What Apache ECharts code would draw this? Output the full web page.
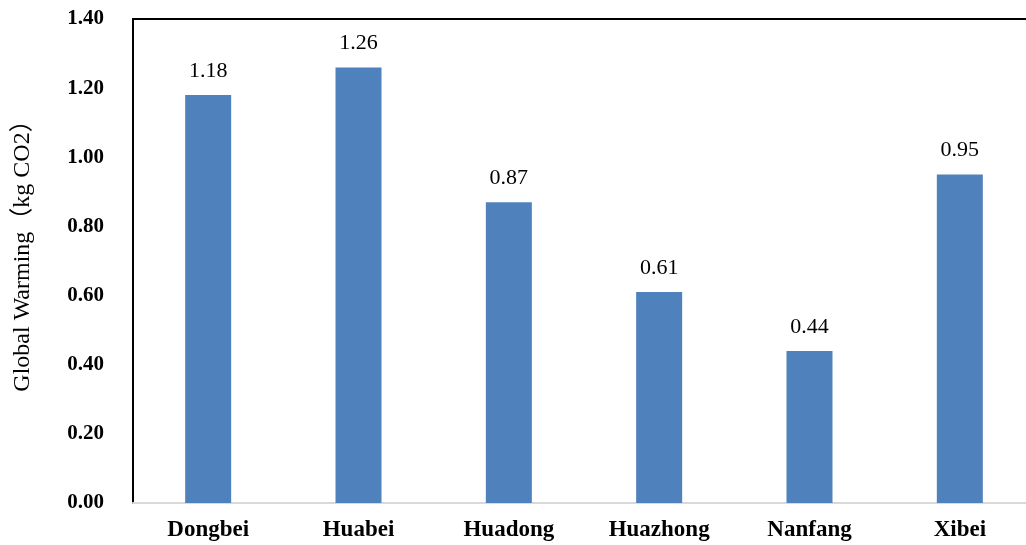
<!DOCTYPE html>
<html><head><meta charset="utf-8">
<script src="https://cdn.jsdelivr.net/npm/echarts@6/dist/echarts.min.js"></script>
<style>html,body{margin:0;padding:0;background:#fff}#c{width:1026px;height:545px}</style>
</head><body><div id="c"></div>
<script>
const categories = ['Dongbei','Huabei','Huadong','Huazhong','Nanfang','Xibei'];
const values = [1.18, 1.26, 0.87, 0.61, 0.44, 0.95];
const yAxisName = 'Global Warming（kg CO2）';
const serif = '"Liberation Serif","Times New Roman","Noto Sans CJK SC",serif';
const chart = echarts.init(document.getElementById('c'));
chart.setOption({
  animation: false,
  grid: {left: 133, right: -9, top: 19, bottom: 42, containLabel: false, outerBoundsMode: 'none'},
  xAxis: [{
    type: 'category', data: categories,
    axisLine: {lineStyle: {color: '#d9d9d9', width: 2}},
    axisTick: {show: false},
    axisLabel: {color: '#000', fontFamily: serif, fontWeight: 'bold', fontSize: 23, margin: 16}
  }, {
    type: 'category', data: categories, position: 'top',
    axisLine: {lineStyle: {color: '#000', width: 2}},
    axisTick: {show: false}, axisLabel: {show: false}
  }],
  yAxis: {
    type: 'value', min: 0, max: 1.4, interval: 0.2,
    name: yAxisName, nameLocation: 'middle', nameGap: 98, nameRotate: 90,
    nameTextStyle: {color: '#000', fontFamily: serif, fontSize: 24, padding: [0, 0, 0, 22]},
    axisLine: {show: true, lineStyle: {color: '#000', width: 2}},
    axisTick: {show: false},
    splitLine: {show: false},
    axisLabel: {color: '#000', fontFamily: serif, fontWeight: 'bold', fontSize: 21, margin: 29,
      formatter: v => v.toFixed(2)}
  },
  series: [{
    type: 'bar', data: values, barWidth: '30.6%',
    itemStyle: {color: '#4f81bd'},
    label: {show: true, position: 'top', distance: 13, color: '#000', fontFamily: serif, fontSize: 22,
      formatter: p => p.value.toFixed(2)}
  }]
});
</script></body></html>
